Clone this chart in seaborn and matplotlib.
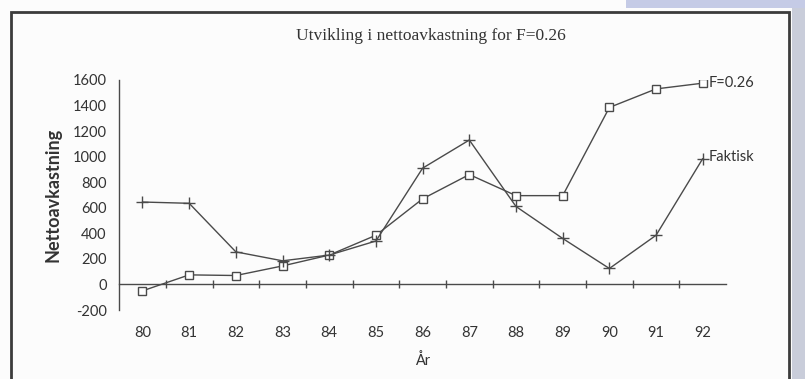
import matplotlib
matplotlib.use("Agg")
import matplotlib.pyplot as plt
import seaborn as sns
import pandas as pd
from matplotlib.patches import Rectangle
from matplotlib.ticker import FixedLocator

years = [80, 81, 82, 83, 84, 85, 86, 87, 88, 89, 90, 91, 92]
f026 = [-50, 75, 70, 145, 230, 385, 670, 860, 695, 695, 1385, 1530, 1575]
faktisk = [645, 635, 255, 185, 230, 340, 910, 1130, 610, 360, 125, 385, 985]
series_names = ["F=0.26", "Faktisk"]
title = "Utvikling i nettoavkastning for F=0.26"
ylabel = "Nettoavkastning"
xlabel = "År"
yticks = [-200, 0, 200, 400, 600, 800, 1000, 1200, 1400, 1600]

sns.set_theme(style="white")
plt.rcParams["font.family"] = ["Lato", "DejaVu Sans"]

df = pd.DataFrame({
    "year": years * 2,
    "value": f026 + faktisk,
    "series": [series_names[0]] * len(years) + [series_names[1]] * len(years),
})

fig = plt.figure(figsize=(8.05, 3.79), dpi=100)
fig.patch.set_facecolor("#fcfcfc")
ax = fig.add_axes([0.148, 0.182, 0.754, 0.607])
ax.set_facecolor("#fcfcfc")

lc = "#4a4a4a"
tc = "#333333"
sns.lineplot(data=df[df.series == series_names[0]], x="year", y="value", ax=ax,
             color=lc, lw=1.0, marker="s", markersize=6, markerfacecolor="white",
             markeredgecolor=lc, markeredgewidth=1.0)
sns.lineplot(data=df[df.series == series_names[1]], x="year", y="value", ax=ax,
             color=lc, lw=1.0, marker="+", markersize=9,
             markeredgecolor=lc, markeredgewidth=1.0)

ax.set_xlim(79.5, 92.5)
ax.set_ylim(-200, 1600)
for s in ["top", "right"]:
    ax.spines[s].set_visible(False)
ax.spines["left"].set_color(lc)
ax.spines["bottom"].set_color(lc)
ax.spines["bottom"].set_position(("data", 0))
ax.spines["left"].set_linewidth(1.0)
ax.spines["bottom"].set_linewidth(1.0)

ax.set_yticks(yticks)
ax.set_yticklabels([str(v) for v in yticks], fontsize=10.5, color=tc)
ax.tick_params(axis="y", direction="inout", length=6, width=1, color=lc, pad=6)

ax.set_xticks(years)
ax.set_xticklabels([str(y) for y in years], fontsize=10.5, color=tc)
ax.xaxis.set_minor_locator(FixedLocator([y + 0.5 for y in years[:-1]]))
ax.tick_params(axis="x", which="major", length=0, pad=30)
ax.tick_params(axis="x", which="minor", direction="inout", length=6, width=1,
               color=lc, bottom=True)

ax.set_xlabel(xlabel, fontsize=10.5, color=tc)
ax.set_ylabel(ylabel, fontsize=13, color=tc, fontweight="bold")
ax.yaxis.set_label_coords(-0.095, 0.5)
ax.xaxis.set_label_coords(0.5, -0.185)

ax.annotate(series_names[0], xy=(years[-1], f026[-1]), xytext=(4, 0),
            textcoords="offset points", va="center", ha="left", fontsize=10.5,
            color=tc, annotation_clip=False)
ax.annotate(series_names[1], xy=(years[-1], faktisk[-1]), xytext=(4, 1),
            textcoords="offset points", va="center", ha="left", fontsize=10.5,
            color=tc, annotation_clip=False)

fig.text(0.535, 0.905, title, ha="center", va="center", fontsize=12.5,
         color=tc, family=["Liberation Serif", "DejaVu Serif"])

fig.patches.append(Rectangle((11 / 805, -0.01), 778 / 805, 1 - 12 / 379 + 0.01,
                             transform=fig.transFigure, fill=False,
                             edgecolor="#3c3c3c", lw=2))
fig.patches.append(Rectangle((792 / 805, 0), 13 / 805, 1,
                             transform=fig.transFigure, facecolor="#c9cdda",
                             edgecolor="none"))
fig.patches.append(Rectangle((626 / 805, 1 - 8 / 379), 179 / 805, 8 / 379,
                             transform=fig.transFigure, facecolor="#c5cbe6",
                             edgecolor="none"))

fig.savefig("out.png", dpi=100, facecolor=fig.get_facecolor())
